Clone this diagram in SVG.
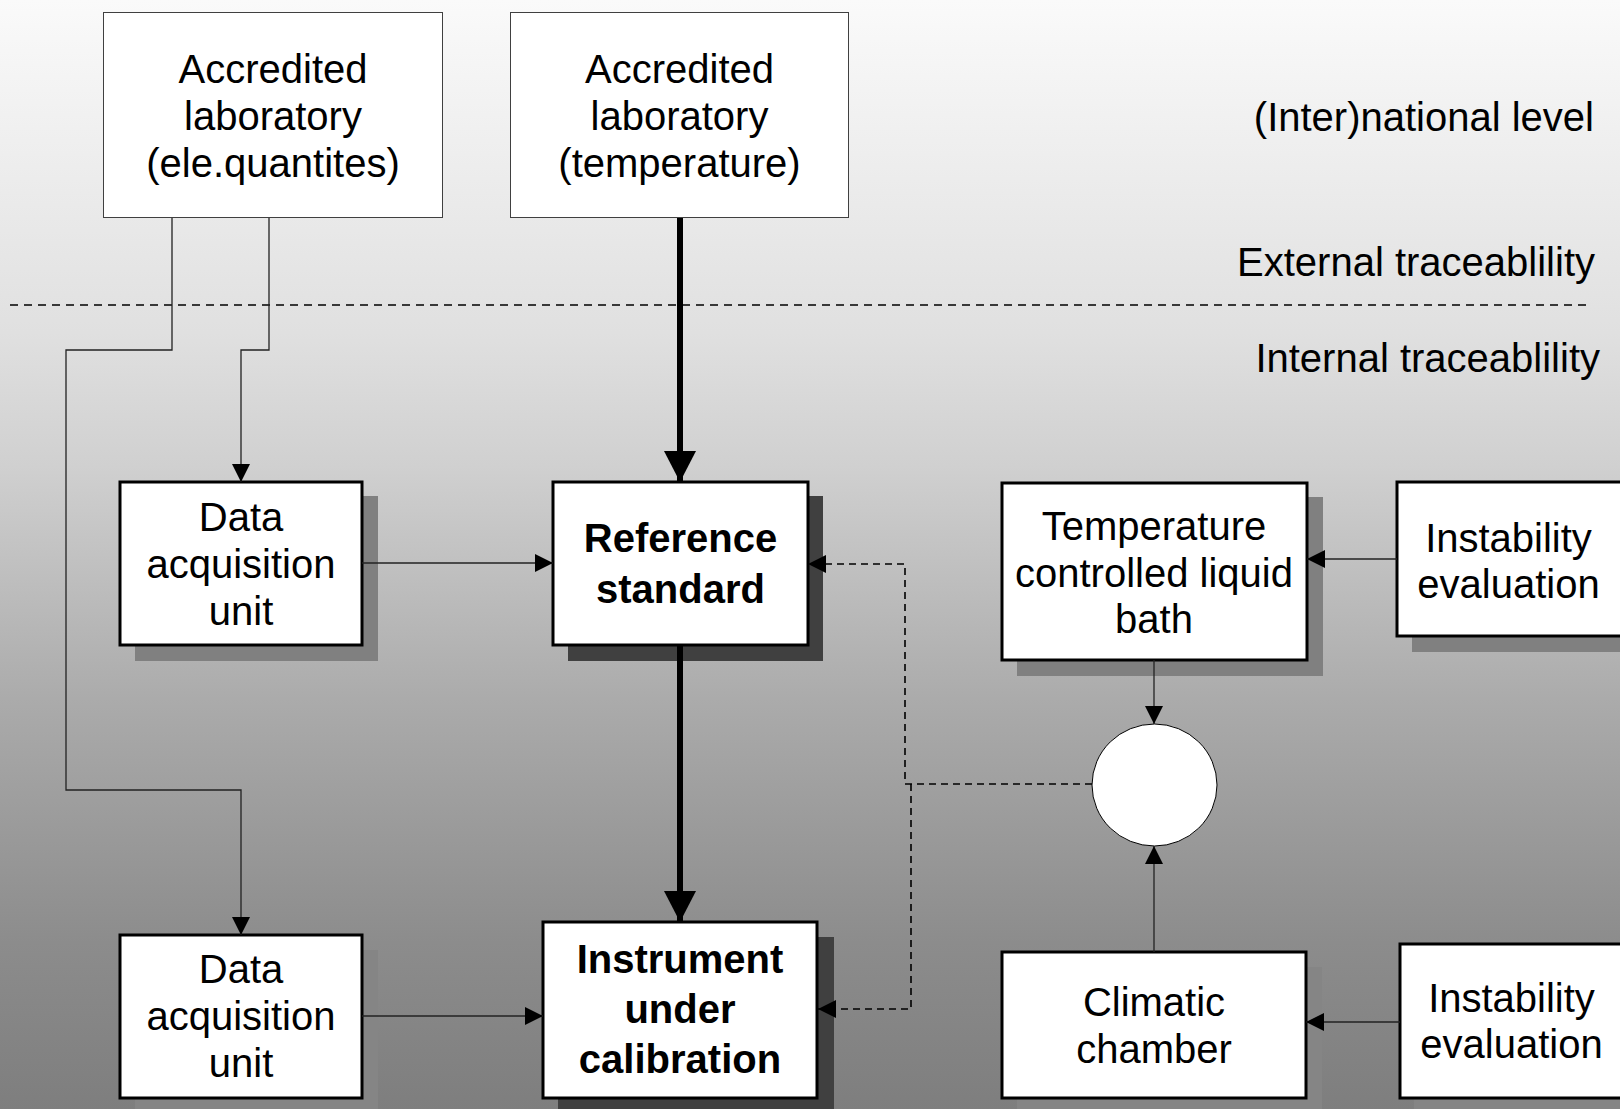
<svg xmlns="http://www.w3.org/2000/svg" width="1620" height="1109" viewBox="0 0 1620 1109">
<defs>
<linearGradient id="bg" gradientUnits="userSpaceOnUse" x1="0" y1="0" x2="0" y2="1109">
<stop offset="0" stop-color="#fafafa"/>
<stop offset="0.3" stop-color="#e0e0e0"/>
<stop offset="0.42" stop-color="#d0d0d0"/>
<stop offset="0.63" stop-color="#ababab"/>
<stop offset="0.85" stop-color="#8c8c8c"/>
<stop offset="1" stop-color="#7e7e7e"/>
</linearGradient>
<marker id="ah" viewBox="0 0 18 18" refX="18" refY="9" markerWidth="18" markerHeight="18" markerUnits="userSpaceOnUse" orient="auto">
<path d="M0,0 L18,9 L0,18 z" fill="#000"/>
</marker>
<marker id="ahb" viewBox="0 0 31 32" refX="31" refY="16" markerWidth="31" markerHeight="32" markerUnits="userSpaceOnUse" orient="auto">
<path d="M0,0 L31,16 L0,32 z" fill="#000"/>
</marker>
</defs>
<style>
text{font-family:"Liberation Sans",Arial,sans-serif;font-size:40px;fill:#000;text-anchor:middle}
.b{font-weight:bold}
.r{text-anchor:end}
.box{fill:#fff;stroke:#000;stroke-width:3}
.lab{fill:#fff;stroke:#404040;stroke-width:1}
.sh1{fill:#808080}
.sh2{fill:#404040}
.sh3{fill:#858585}
.thin{fill:none;stroke:#222;stroke-width:1.3}
.thick{fill:none;stroke:#000;stroke-width:6}
.dash{fill:none;stroke:#000;stroke-width:1.6;stroke-dasharray:7 5}
</style>
<rect x="0" y="0" width="1620" height="1109" fill="url(#bg)"/>

<g id="levels">
<line x1="10" y1="305" x2="1590" y2="305" stroke="#000" stroke-width="1.5" stroke-dasharray="8 6"/>
<text class="r" x="1594" y="131">(Inter)national level</text>
<text class="r" x="1595" y="276">External traceablility</text>
<text class="r" x="1600" y="372">Internal traceablility</text>
</g>

<g id="lab-ele">
<rect class="lab" x="103.5" y="12.5" width="339" height="205"/>
<text x="273" y="83">Accredited</text>
<text x="273" y="130">laboratory</text>
<text x="273" y="177">(ele.quantites)</text>
</g>

<g id="lab-temp">
<rect class="lab" x="510.5" y="12.5" width="338" height="205"/>
<text x="679.5" y="83">Accredited</text>
<text x="679.5" y="130">laboratory</text>
<text x="679.5" y="177">(temperature)</text>
</g>

<g id="daq1">
<rect class="sh1" x="135" y="496" width="243" height="165"/>
<rect class="box" x="120" y="482" width="242" height="163"/>
<text x="241" y="531">Data</text>
<text x="241" y="578">acquisition</text>
<text x="241" y="625">unit</text>
</g>

<g id="refstd">
<rect class="sh2" x="568" y="496" width="255" height="165"/>
<rect class="box" x="553" y="482" width="255" height="163"/>
<text class="b" x="680.5" y="552">Reference</text>
<text class="b" x="680.5" y="603">standard</text>
</g>

<g id="bath">
<rect class="sh1" x="1017" y="497" width="306" height="179"/>
<rect class="box" x="1002" y="483" width="305" height="177"/>
<text x="1154" y="540">Temperature</text>
<text x="1154" y="587">controlled liquid</text>
<text x="1154" y="633">bath</text>
</g>

<g id="instab1">
<rect class="sh1" x="1412" y="497" width="220" height="155"/>
<rect class="box" x="1397" y="482" width="230" height="154"/>
<text x="1508.5" y="552">Instability</text>
<text x="1508.5" y="598">evaluation</text>
</g>

<g id="mixer">
<ellipse cx="1154.5" cy="785" rx="62.5" ry="61" fill="#fff" stroke="#000" stroke-width="1"/>
</g>

<g id="daq2">
<rect class="sh3" x="135" y="950" width="243" height="165"/>
<rect class="box" x="120" y="935" width="242" height="163"/>
<text x="241" y="983">Data</text>
<text x="241" y="1030">acquisition</text>
<text x="241" y="1077">unit</text>
</g>

<g id="iuc">
<rect class="sh2" x="558" y="937" width="276" height="180"/>
<rect class="box" x="543" y="922" width="274" height="176"/>
<text class="b" x="680" y="973">Instrument</text>
<text class="b" x="680" y="1023">under</text>
<text class="b" x="680" y="1073">calibration</text>
</g>

<g id="climatic">
<rect class="sh3" x="1017" y="967" width="305" height="150"/>
<rect class="box" x="1002" y="952" width="304" height="146"/>
<text x="1154" y="1016">Climatic</text>
<text x="1154" y="1063">chamber</text>
</g>

<g id="instab2">
<rect class="sh3" x="1414" y="959" width="220" height="155"/>
<rect class="box" x="1400" y="944" width="230" height="154"/>
<text x="1511.5" y="1012">Instability</text>
<text x="1511.5" y="1058">evaluation</text>
</g>

<g id="connectors">
<path class="thin" d="M172,218 V350 H66 V790 H241 V935" marker-end="url(#ah)"/>
<path class="thin" d="M269,218 V350 H241 V482" marker-end="url(#ah)" stroke="#555"/>
<path class="thick" d="M680,218 V482" marker-end="url(#ahb)"/>
<path class="thick" d="M680,645 V922" marker-end="url(#ahb)"/>
<path class="thin" d="M362,563 H553" marker-end="url(#ah)"/>
<path class="thin" d="M362,1016 H543" marker-end="url(#ah)"/>
<path class="thin" d="M1397,559 H1307" marker-end="url(#ah)" stroke="#555"/>
<path class="thin" d="M1154,660 V724" marker-end="url(#ah)" stroke="#555"/>
<path class="thin" d="M1154,952 V846" marker-end="url(#ah)" stroke="#555"/>
<path class="thin" d="M1400,1022 H1306" marker-end="url(#ah)"/>
<path class="dash" d="M1092,784 H905 V564 H808" marker-end="url(#ah)"/>
<path class="dash" d="M911,784 V1009 H818" marker-end="url(#ah)"/>
</g>
</svg>
